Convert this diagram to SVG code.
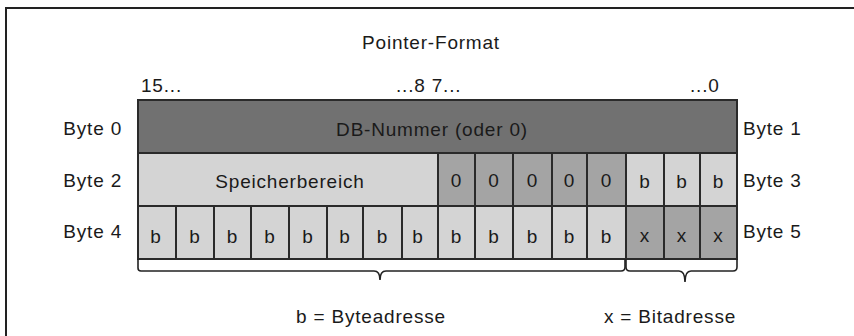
<svg xmlns="http://www.w3.org/2000/svg" width="854" height="336" viewBox="0 0 854 336">
<style>
text{font-family:"Liberation Sans",Arial,sans-serif;font-size:19px;letter-spacing:0.8px;fill:#1a1a1a}
.c{text-anchor:middle}
.e{text-anchor:end}
.d{fill:#717171;stroke:#2a2a2a;stroke-width:2}
.m{fill:#a4a4a4;stroke:#2a2a2a;stroke-width:2}
.l{fill:#d4d4d4;stroke:#2a2a2a;stroke-width:2}
.br{fill:none;stroke:#222;stroke-width:1.6}
</style>
<rect width="854" height="336" fill="#fff"/>
<rect x="6" y="8" width="1000" height="1000" fill="none" stroke="#222" stroke-width="2"/>
<g id="labels">
<text class="c" x="431" y="49">Pointer-Format</text>
<text x="141" y="92">15...</text>
<text x="396" y="92">...8 7...</text>
<text x="690" y="92">...0</text>
<text class="e" x="122" y="135">Byte 0</text>
<text class="e" x="122" y="187">Byte 2</text>
<text class="e" x="122" y="238">Byte 4</text>
<text x="743" y="135">Byte 1</text>
<text x="743" y="187">Byte 3</text>
<text x="743" y="238">Byte 5</text>
<text class="c" x="371" y="323">b = Byteadresse</text>
<text class="c" x="670" y="323">x = Bitadresse</text>
</g>
<g id="row0">
<rect class="d" x="138" y="100" width="599" height="53"/>
<text class="c" x="432" y="136">DB-Nummer (oder 0)</text>
</g>
<g id="row1">
<g id="speicherbereich"><rect class="l" x="138" y="153" width="300" height="53"/><text class="c" x="290" y="188">Speicherbereich</text></g>
<g id="z1"><rect class="m" x="438" y="153" width="37" height="53"/><text class="c" x="456.5" y="187">0</text></g>
<g id="z2"><rect class="m" x="475" y="153" width="38" height="53"/><text class="c" x="494" y="187">0</text></g>
<g id="z3"><rect class="m" x="513" y="153" width="39" height="53"/><text class="c" x="532.5" y="187">0</text></g>
<g id="z4"><rect class="m" x="552" y="153" width="35" height="53"/><text class="c" x="569.5" y="187">0</text></g>
<g id="z5"><rect class="m" x="587" y="153" width="39" height="53"/><text class="c" x="606.5" y="187">0</text></g>
<g id="b3a"><rect class="l" x="626" y="153" width="38" height="53"/><text class="c" x="645" y="188">b</text></g>
<g id="b3b"><rect class="l" x="664" y="153" width="36" height="53"/><text class="c" x="682" y="188">b</text></g>
<g id="b3c"><rect class="l" x="700" y="153" width="37" height="53"/><text class="c" x="718.5" y="188">b</text></g>
</g>
<g id="row2">
<g id="b1"><rect class="l" x="138" y="206" width="38" height="53"/><text class="c" x="156" y="243">b</text></g>
<g id="b2"><rect class="l" x="176" y="206" width="38" height="53"/><text class="c" x="195" y="243">b</text></g>
<g id="b3"><rect class="l" x="214" y="206" width="37" height="53"/><text class="c" x="232.5" y="243">b</text></g>
<g id="b4"><rect class="l" x="251" y="206" width="38" height="53"/><text class="c" x="270" y="243">b</text></g>
<g id="b5"><rect class="l" x="289" y="206" width="38" height="53"/><text class="c" x="308" y="243">b</text></g>
<g id="b6"><rect class="l" x="327" y="206" width="36" height="53"/><text class="c" x="345" y="243">b</text></g>
<g id="b7"><rect class="l" x="363" y="206" width="39" height="53"/><text class="c" x="382.5" y="243">b</text></g>
<g id="b8"><rect class="l" x="402" y="206" width="36" height="53"/><text class="c" x="418" y="243">b</text></g>
<g id="b9"><rect class="l" x="438" y="206" width="37" height="53"/><text class="c" x="456.5" y="243">b</text></g>
<g id="b10"><rect class="l" x="475" y="206" width="38" height="53"/><text class="c" x="494" y="243">b</text></g>
<g id="b11"><rect class="l" x="513" y="206" width="39" height="53"/><text class="c" x="532.5" y="243">b</text></g>
<g id="b12"><rect class="l" x="552" y="206" width="35" height="53"/><text class="c" x="569.5" y="243">b</text></g>
<g id="b13"><rect class="l" x="587" y="206" width="39" height="53"/><text class="c" x="606.5" y="243">b</text></g>
<g id="x1"><rect class="m" x="626" y="206" width="38" height="53"/><text class="c" x="645" y="242">x</text></g>
<g id="x2"><rect class="m" x="664" y="206" width="36" height="53"/><text class="c" x="682" y="242">x</text></g>
<g id="x3"><rect class="m" x="700" y="206" width="37" height="53"/><text class="c" x="718.5" y="242">x</text></g>
</g>
<g id="connectors">
<path class="br" d="M138,259 V268 Q138,271 141,271 H374 Q380,271 380,280 Q380,271 386,271 H621 Q625,271 625,267 V259"/>
<path class="br" d="M626,259 V267 Q626,271 630,271 H679 Q685,271 685,282 Q685,271 691,271 H733 Q737,271 737,267 V259"/>
</g>
</svg>
